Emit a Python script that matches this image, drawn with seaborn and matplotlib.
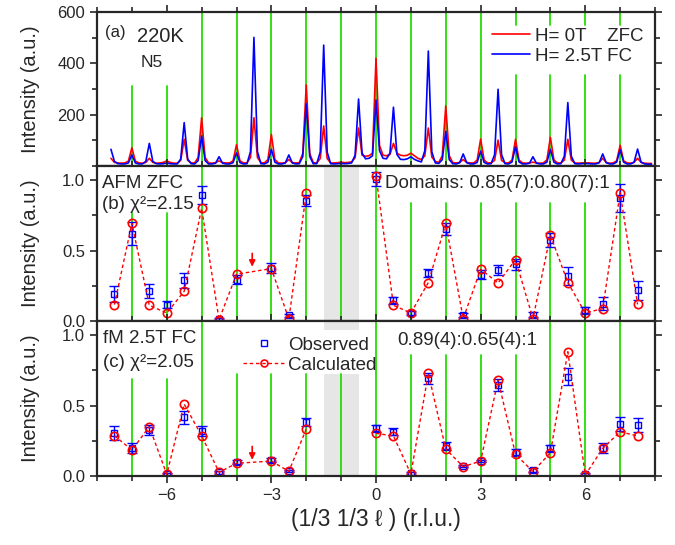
import numpy as np
import pandas as pd
import seaborn as sns
import matplotlib
matplotlib.use("Agg")
import matplotlib.pyplot as plt
from matplotlib.lines import Line2D
from matplotlib.ticker import MultipleLocator, FormatStrFormatter

# (a) raw scans along (1/3 1/3 l), 0.1 r.l.u. steps from -7.6 to 7.9
l_scan = np.round(np.arange(-7.6, 7.95, 0.1), 1)
red_counts = [
    30, 14, 12, 11,
    12, 19, 71, 19, 12,   11, 14, 30, 14, 11,   12, 14, 20, 14, 11,
    11, 22, 104, 22, 12,  12, 33, 188, 33, 12,  11, 13, 20, 13, 12,
    12, 20, 83, 20, 12,   12, 33, 188, 33, 13,  12, 25, 123, 25, 12,
    11, 13, 25, 13, 12,   13, 49, 316, 49, 13,  12, 29, 156, 29, 12,
    12, 13, 15, 13, 14,   16, 32, 148, 42, 38,  40, 50, 420, 80, 42,
    40, 45, 88, 50, 42,   40, 42, 50, 40, 30,   25, 40, 148, 35, 18,
    14, 40, 234, 40, 13,  12, 14, 25, 14, 12,   12, 23, 105, 23, 12,
    12, 22, 101, 22, 12,  12, 23, 104, 23, 12,  11, 12, 15, 12, 11,
    12, 24, 112, 24, 12,  12, 23, 104, 23, 12,  11, 12, 12, 12, 11,
    11, 14, 30, 14, 11,   12, 20, 81, 20, 12,   11, 14, 30, 14, 11,
    10, 10,
]
blue_counts = [
    65, 18, 9, 8,
    8, 12, 43, 12, 8,     8, 18, 88, 18, 9,     8, 9, 12, 9, 8,
    8, 27, 169, 27, 9,    8, 21, 117, 21, 8,    8, 11, 36, 11, 8,
    8, 13, 51, 13, 8,     9, 56, 501, 56, 9,    8, 15, 65, 15, 8,
    8, 12, 43, 12, 8,     9, 37, 242, 37, 9,    9, 54, 471, 54, 9,
    8, 9, 10, 9, 10,      12, 42, 261, 50, 28,  30, 40, 257, 60, 30,
    28, 50, 229, 45, 26,  25, 28, 36, 26, 20,   16, 60, 448, 55, 12,
    10, 25, 135, 25, 9,   8, 13, 47, 13, 8,     8, 14, 58, 14, 8,
    9, 44, 299, 44, 9,    8, 16, 75, 16, 8,     8, 11, 36, 11, 8,
    8, 15, 65, 15, 8,     9, 38, 247, 38, 9,    8, 9, 10, 9, 8,
    8, 13, 47, 13, 8,     8, 15, 63, 15, 8,     8, 15, 66, 15, 8,
    7, 7,
]

# (b), (c) integrated intensities, two groups either side of the excluded range
l_left = [-7.5, -7.0, -6.5, -6.0, -5.5, -5.0, -4.5, -4.0, -3.0, -2.5, -2.0]
l_right = [0.0, 0.5, 1.0, 1.5, 2.0, 2.5, 3.0, 3.5, 4.0, 4.5, 5.0, 5.5, 6.0, 6.5, 7.0, 7.5]

afm_obs = [0.194, 0.621, 0.213, 0.116, 0.289, 0.893, 0.014, 0.294, 0.375, 0.040, 0.853,
           1.007, 0.147, 0.057, 0.341, 0.652, 0.040, 0.330, 0.360, 0.403, 0.045, 0.573, 0.320, 0.076, 0.123, 0.874, 0.218]
afm_err = [0.057, 0.080, 0.050, 0.026, 0.053, 0.065, 0.010, 0.030, 0.035, 0.012, 0.040,
           0.050, 0.026, 0.015, 0.030, 0.040, 0.015, 0.035, 0.035, 0.040, 0.020, 0.050, 0.063, 0.024, 0.045, 0.100, 0.066]
afm_calc = [0.116, 0.692, 0.111, 0.057, 0.211, 0.799, 0.010, 0.332, 0.372, 0.014, 0.905,
            1.030, 0.111, 0.057, 0.273, 0.692, 0.017, 0.367, 0.270, 0.436, 0.017, 0.609, 0.273, 0.057, 0.088, 0.910, 0.118]

fm_obs = [0.303, 0.196, 0.326, 0.012, 0.416, 0.319, 0.026, 0.097, 0.113, 0.035, 0.385,
          0.338, 0.314, 0.019, 0.693, 0.213, 0.071, 0.106, 0.645, 0.168, 0.043, 0.196, 0.704, 0.012, 0.200, 0.369, 0.362]
fm_err = [0.050, 0.035, 0.035, 0.010, 0.045, 0.033, 0.010, 0.015, 0.016, 0.008, 0.028,
          0.026, 0.026, 0.010, 0.040, 0.026, 0.010, 0.010, 0.040, 0.025, 0.015, 0.027, 0.060, 0.008, 0.035, 0.047, 0.053]
fm_calc = [0.286, 0.184, 0.350, 0.012, 0.510, 0.286, 0.026, 0.090, 0.106, 0.033, 0.333,
           0.303, 0.284, 0.014, 0.728, 0.191, 0.066, 0.106, 0.681, 0.154, 0.031, 0.165, 0.882, 0.007, 0.196, 0.314, 0.284]

green_l = list(range(-7, 8))

scan = pd.DataFrame({"l": l_scan, "red": red_counts, "blue": blue_counts})
afm = pd.DataFrame({"l": l_left + l_right, "obs": afm_obs, "err": afm_err, "calc": afm_calc,
                    "seg": [0] * len(l_left) + [1] * len(l_right)})
fm = pd.DataFrame({"l": l_left + l_right, "obs": fm_obs, "err": fm_err, "calc": fm_calc,
                   "seg": [0] * len(l_left) + [1] * len(l_right)})

sns.set_style("ticks")
plt.rcParams["font.family"] = ["Liberation Sans", "DejaVu Sans"]
plt.rcParams["axes.linewidth"] = 1.6

fig = plt.figure(figsize=(6.75, 5.45), dpi=100)
ax_a = fig.add_axes([0.1437, 0.6954, 0.8267, 0.2826])
ax_b = fig.add_axes([0.1437, 0.411, 0.8267, 0.2844])
ax_c = fig.add_axes([0.1437, 0.1266, 0.8267, 0.2844])

green = "#22dd00"


def green_lines(ax, gaps):
    # gaps: {l: list of (ymin, ymax)} where the line is only partly drawn
    for l in green_l:
        for y0, y1 in gaps.get(l, [(0, 1)]):
            ax.axvline(l, ymin=y0, ymax=y1, color=green, lw=1.3, zorder=1)


# ---- panel (a)
green_lines(ax_a, {-7: [(0, 0.52)], -6: [(0, 0.52)],
                   4: [(0, 0.59), (0.916, 1)], 5: [(0, 0.59), (0.916, 1)],
                   6: [(0, 0.59), (0.916, 1)], 7: [(0, 0.59), (0.916, 1)]})
sns.lineplot(data=scan, x="l", y="red", color="red", lw=1.2, ax=ax_a, label="H= 0T    ZFC", zorder=3)
sns.lineplot(data=scan, x="l", y="blue", color="blue", lw=1.2, ax=ax_a, label="H= 2.5T FC", zorder=4)
ax_a.set_ylim(0, 600)
ax_a.set_yticks([200, 400, 600])
ax_a.yaxis.set_minor_locator(MultipleLocator(100))
ax_a.legend(loc="upper right", bbox_to_anchor=(1.0, 0.97), frameon=False, fontsize=13.5,
            handlelength=2.0, handletextpad=0.3, labelspacing=0.15, borderaxespad=0.2)
ax_a.text(0.014, 0.864, "(a)", transform=ax_a.transAxes, fontsize=12, va="center")
ax_a.text(0.072, 0.844, "220K", transform=ax_a.transAxes, fontsize=14.5, va="center")
ax_a.text(0.079, 0.675, "N5", transform=ax_a.transAxes, fontsize=12.5, va="center")


def refinement(ax, df, arrow_tip):
    sns.lineplot(data=df, x="l", y="calc", units="seg", estimator=None, color="red", lw=1,
                 ls=(0, (2.5, 2)), marker="o", mfc="none", mec="red", mew=1.2, ms=6, ax=ax, zorder=4)
    ax.errorbar(df["l"], df["obs"], yerr=df["err"], fmt="s", mfc="none", mec="blue", mew=1,
                ms=5, ecolor="blue", elinewidth=1, capsize=3.5, capthick=1, zorder=3)
    ax.annotate("", xy=(-3.55, arrow_tip), xytext=(-3.55, arrow_tip + 0.095),
                arrowprops=dict(arrowstyle="-|>", color="red", lw=1.2, mutation_scale=9,
                                shrinkA=0, shrinkB=0), zorder=5)
    ax.set_ylim(0, 1.1)
    ax.set_yticks([0, 0.5, 1.0])
    ax.yaxis.set_major_formatter(FormatStrFormatter("%.1f"))
    ax.yaxis.set_minor_locator(MultipleLocator(0.25))


# ---- panel (b)
ax_b.axvspan(-1.5, -0.5, color="#e6e6e6", lw=0, zorder=0)
green_lines(ax_b, {-7: [(0, 0.70)], -6: [(0, 0.70)],
                   1: [(0, 0.76)], 2: [(0, 0.76)], 3: [(0, 0.76)], 4: [(0, 0.76)], 5: [(0, 0.76)], 6: [(0, 0.76)]})
refinement(ax_b, afm, 0.385)
ax_b.text(0.009, 0.89, "AFM ZFC", transform=ax_b.transAxes, fontsize=13.5, va="center")
ax_b.text(0.009, 0.75, "(b) χ²=2.15", transform=ax_b.transAxes, fontsize=13.5, va="center")
ax_b.text(0.516, 0.89, "Domains: 0.85(7):0.80(7):1", transform=ax_b.transAxes, fontsize=13.5, va="center")

# ---- panel (c)
ax_c.axvspan(-1.5, -0.5, ymax=0.66, color="#e6e6e6", lw=0, zorder=0)
ax_c.axvspan(-1.5, -0.5, ymin=0.94, color="#e6e6e6", lw=0, zorder=0)
green_lines(ax_c, {-7: [(0, 0.626)], -6: [(0, 0.626)],
                   -4: [(0, 0.66)], -3: [(0, 0.66)], -2: [(0, 0.66)], -1: [(0, 0.66)],
                   1: [(0, 0.78)], 2: [(0, 0.78)], 3: [(0, 0.78)], 4: [(0, 0.78)]})
refinement(ax_c, fm, 0.115)
ax_c.text(0.011, 0.89, "fM 2.5T FC", transform=ax_c.transAxes, fontsize=13.5, va="center")
ax_c.text(0.011, 0.735, "(c) χ²=2.05", transform=ax_c.transAxes, fontsize=13.5, va="center")
ax_c.text(0.538, 0.877, "0.89(4):0.65(4):1", transform=ax_c.transAxes, fontsize=13.5, va="center")
handles = [Line2D([], [], ls="none", marker="s", mfc="none", mec="blue", mew=1, ms=5),
           Line2D([], [], color="red", lw=1, ls=(0, (2.5, 2)), marker="o", mfc="none", mec="red", mew=1.2, ms=5)]
ax_c.legend(handles, ["Observed", "Calculated"], loc="upper left", bbox_to_anchor=(0.245, 0.96),
            frameon=False, fontsize=13.5, handlelength=2.2, handletextpad=0.2, labelspacing=0.15,
            borderaxespad=0.1)

for ax in (ax_a, ax_b, ax_c):
    ax.set_xlim(-8, 8)
    ax.xaxis.set_major_locator(MultipleLocator(3))
    ax.xaxis.set_minor_locator(MultipleLocator(1))
    ax.tick_params(which="both", direction="out", top=True, right=True, labelsize=12, width=1.2)
    ax.tick_params(which="major", length=5)
    ax.tick_params(which="minor", length=3.5)
    ax.set_ylabel("Intensity (a.u.)", fontsize=14.5)
    ax.yaxis.set_label_coords(-0.103, 0.5)
    ax.set_xlabel("")
    for s in ax.spines.values():
        s.set_zorder(6)
for ax in (ax_a, ax_b):
    ax.tick_params(labelbottom=False)
ax_c.set_xlabel("(1/3 1/3 ℓ ) (r.l.u.)", fontsize=16.5)

fig.savefig("out.png", dpi=100)
